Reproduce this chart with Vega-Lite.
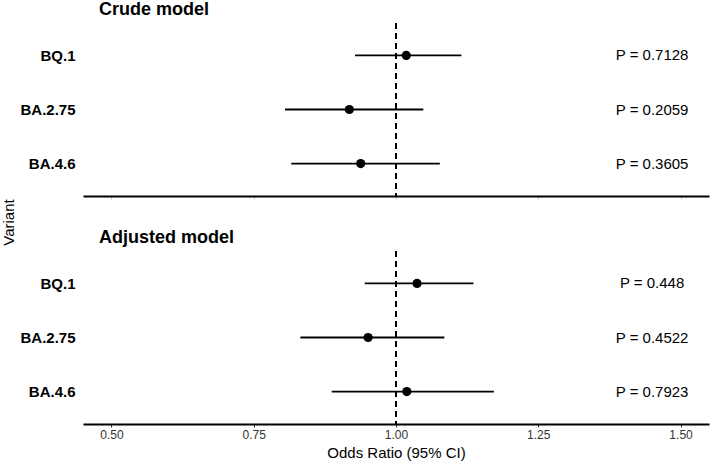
{
  "$schema": "https://vega.github.io/schema/vega-lite/v6.json",
  "background": "white",
  "padding": {"left": 1, "top": 1, "right": 2, "bottom": 2},
  "data": {"values": [
    {"model": "Crude", "variant": "BQ.1", "or": 1.018, "lo": 0.928, "hi": 1.115, "p": "P = 0.7128"},
    {"model": "Crude", "variant": "BA.2.75", "or": 0.918, "lo": 0.805, "hi": 1.048, "p": "P = 0.2059"},
    {"model": "Crude", "variant": "BA.4.6", "or": 0.938, "lo": 0.816, "hi": 1.077, "p": "P = 0.3605"},
    {"model": "Adjusted", "variant": "BQ.1", "or": 1.037, "lo": 0.945, "hi": 1.136, "p": "P = 0.448"},
    {"model": "Adjusted", "variant": "BA.2.75", "or": 0.951, "lo": 0.832, "hi": 1.085, "p": "P = 0.4522"},
    {"model": "Adjusted", "variant": "BA.4.6", "or": 1.019, "lo": 0.887, "hi": 1.172, "p": "P = 0.7923"}
  ]},
  "spacing": 55,
  "bounds": "flush",
  "vconcat": [
    {
      "title": {"text": "Crude model", "anchor": "start", "frame": "group", "dx": 16, "fontSize": 18, "fontWeight": "bold", "color": "black", "offset": 3},
      "width": 626,
      "height": 173,
      "transform": [{"filter": "datum.model === 'Crude'"}],
      "layer": [
        {
          "mark": {"type": "rule", "strokeDash": [6, 4], "strokeWidth": 1.5, "color": "black"},
          "encoding": {
            "x": {"datum": 1, "type": "quantitative", "scale": {"domain": [0.45, 1.55], "nice": false, "zero": false},
              "axis": {"values": [0.5, 0.75, 1, 1.25, 1.5], "labels": false, "title": null, "tickColor": "#cccccc", "tickSize": 3, "domainColor": "black", "domainWidth": 2}}
          }
        },
        {
          "mark": {"type": "rule", "strokeWidth": 1.8, "color": "black"},
          "encoding": {
            "x": {"field": "lo", "type": "quantitative"},
            "x2": {"field": "hi"},
            "y": {"field": "variant", "type": "nominal", "sort": ["BQ.1", "BA.2.75", "BA.4.6"], "scale": {"type": "point", "padding": 0.6},
              "axis": {"title": "Variant", "titleY": 199, "titleFontSize": 15, "titleFontWeight": "normal", "titleColor": "black", "titlePadding": 3,
                "domain": false, "ticks": false, "labelFontSize": 15, "labelFontWeight": "bold", "labelColor": "black", "labelPadding": 8}}
          }
        },
        {
          "mark": {"type": "point", "filled": true, "size": 85, "color": "black", "opacity": 1},
          "encoding": {
            "x": {"field": "or", "type": "quantitative"},
            "y": {"field": "variant", "type": "nominal", "sort": ["BQ.1", "BA.2.75", "BA.4.6"]}
          }
        },
        {
          "mark": {"type": "text", "fontSize": 15, "color": "black", "align": "center", "baseline": "middle"},
          "encoding": {
            "x": {"datum": 1.45, "type": "quantitative"},
            "y": {"field": "variant", "type": "nominal", "sort": ["BQ.1", "BA.2.75", "BA.4.6"]},
            "text": {"field": "p"}
          }
        }
      ]
    },
    {
      "title": {"text": "Adjusted model", "anchor": "start", "frame": "group", "dx": 16, "fontSize": 18, "fontWeight": "bold", "color": "black", "offset": 3},
      "width": 626,
      "height": 173,
      "transform": [{"filter": "datum.model === 'Adjusted'"}],
      "layer": [
        {
          "mark": {"type": "rule", "strokeDash": [6, 4], "strokeWidth": 1.5, "color": "black"},
          "encoding": {
            "x": {"datum": 1, "type": "quantitative", "scale": {"domain": [0.45, 1.55], "nice": false, "zero": false},
              "axis": {"values": [0.5, 0.75, 1, 1.25, 1.5], "format": ".2f", "labelFontSize": 12, "labelColor": "#333333", "labelPadding": 2,
                "title": "Odds Ratio (95% CI)", "titleFontSize": 15, "titleFontWeight": "normal", "titleColor": "black", "titlePadding": 5,
                "tickColor": "#333333", "tickSize": 3, "domainColor": "black", "domainWidth": 2}}
          }
        },
        {
          "mark": {"type": "rule", "strokeWidth": 1.8, "color": "black"},
          "encoding": {
            "x": {"field": "lo", "type": "quantitative"},
            "x2": {"field": "hi"},
            "y": {"field": "variant", "type": "nominal", "sort": ["BQ.1", "BA.2.75", "BA.4.6"], "scale": {"type": "point", "padding": 0.6},
              "axis": {"title": null, "domain": false, "ticks": false, "labelFontSize": 15, "labelFontWeight": "bold", "labelColor": "black", "labelPadding": 8}}
          }
        },
        {
          "mark": {"type": "point", "filled": true, "size": 85, "color": "black", "opacity": 1},
          "encoding": {
            "x": {"field": "or", "type": "quantitative"},
            "y": {"field": "variant", "type": "nominal", "sort": ["BQ.1", "BA.2.75", "BA.4.6"]}
          }
        },
        {
          "mark": {"type": "text", "fontSize": 15, "color": "black", "align": "center", "baseline": "middle"},
          "encoding": {
            "x": {"datum": 1.45, "type": "quantitative"},
            "y": {"field": "variant", "type": "nominal", "sort": ["BQ.1", "BA.2.75", "BA.4.6"]},
            "text": {"field": "p"}
          }
        }
      ]
    }
  ],
  "config": {
    "font": "Liberation Sans",
    "view": {"stroke": null},
    "axis": {"grid": false, "labelFont": "Liberation Sans", "titleFont": "Liberation Sans"},
    "title": {"font": "Liberation Sans"}
  }
}
